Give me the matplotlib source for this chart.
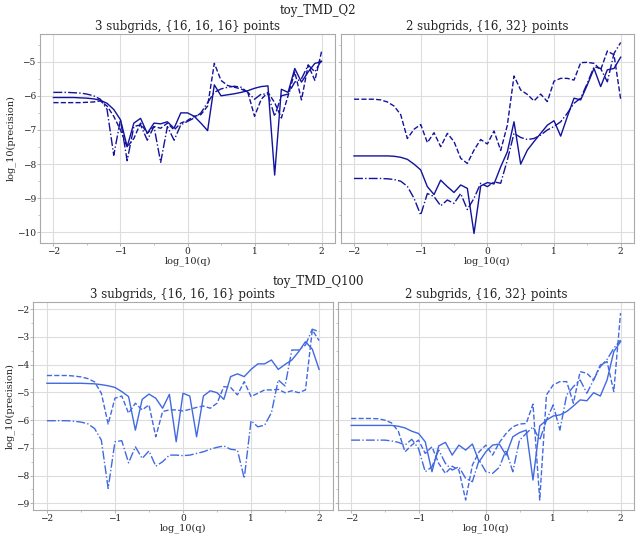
import numpy as np
import matplotlib
matplotlib.use("Agg")
import matplotlib.pyplot as plt
from matplotlib.ticker import MultipleLocator

plt.rcParams['font.family'] = ['DejaVu Serif']

log_q = np.round(np.linspace(-2.0, 2.0, 41), 1)

q2_3sub_solid = [-6.05, -6.05, -6.05, -6.05, -6.06, -6.07, -6.09, -6.13, -6.22, -6.4,
                 -6.7, -7.49, -6.8, -6.66, -7.1, -6.8, -6.82, -6.76, -6.95, -6.5,
                 -6.5, -6.6, -6.8, -7.02, -5.68, -6.0, -5.97, -5.94, -5.9, -5.85,
                 -5.78, -5.73, -5.71, -8.32, -5.81, -5.9, -5.2, -5.6, -5.3, -5.05,
                 -5.0]
q2_3sub_dashed = [-6.2, -6.2, -6.2, -6.2, -6.2, -6.19, -6.18, -6.15, -6.3, -6.6,
                  -7.0, -7.5, -7.25, -6.8, -7.1, -6.9, -6.95, -6.8, -7.0, -6.8,
                  -6.72, -6.6, -6.55, -6.3, -5.05, -5.55, -5.7, -5.75, -5.8, -5.9,
                  -6.6, -6.1, -5.9, -6.2, -6.65, -6.0, -5.3, -6.12, -5.1, -5.55,
                  -4.7]
q2_3sub_dashdot = [-5.9, -5.9, -5.9, -5.91, -5.92, -5.95, -6.0, -6.1, -6.4, -7.74,
                   -6.7, -7.9, -6.9, -6.85, -7.3, -6.9, -7.95, -6.9, -7.3, -6.85,
                   -6.75, -6.65, -6.5, -6.2, -5.9, -5.8, -5.75, -5.72, -5.75, -5.9,
                   -6.1, -5.95, -5.95, -6.6, -6.0, -5.95, -5.6, -5.5, -5.1, -5.3,
                   -4.95]

q2_2sub_solid = [-7.76, -7.76, -7.76, -7.76, -7.76, -7.76, -7.77, -7.8, -7.86, -8.0,
                 -8.17, -8.66, -8.89, -8.47, -8.66, -8.83, -8.61, -8.71, -10.03, -8.64,
                 -8.54, -8.58, -8.08, -7.64, -6.76, -8.0, -7.59, -7.34, -7.1, -6.86,
                 -6.73, -7.18, -6.61, -6.07, -6.12, -5.68, -5.2, -5.73, -5.24, -5.2,
                 -4.87]
q2_2sub_dashed = [-6.1, -6.1, -6.1, -6.1, -6.12, -6.18, -6.3, -6.55, -7.25, -6.98,
                  -6.84, -7.37, -7.08, -7.49, -7.1, -7.34, -7.83, -7.98, -7.59, -7.28,
                  -7.41, -7.03, -7.6, -6.86, -5.42, -5.83, -5.96, -6.15, -5.95, -6.17,
                  -5.57, -5.49, -5.49, -5.54, -5.03, -5.02, -5.05, -5.24, -4.69, -4.8,
                  -6.1]
q2_2sub_dashdot = [-8.42, -8.42, -8.42, -8.42, -8.42, -8.43, -8.45, -8.5, -8.65, -9.0,
                   -9.49, -8.86, -8.95, -9.22, -9.05, -9.15, -8.86, -9.33, -9.0, -8.56,
                   -8.66, -8.52, -8.56, -7.88, -7.1, -7.22, -7.28, -7.25, -7.15, -7.0,
                   -6.9, -6.76, -6.51, -6.22, -6.07, -5.63, -5.15, -5.2, -5.59, -4.76,
                   -4.44]

q100_3sub_solid = [-4.67, -4.67, -4.67, -4.67, -4.67, -4.67, -4.68, -4.69, -4.72, -4.76,
                   -4.82, -4.97, -5.15, -6.36, -5.25, -5.06, -5.21, -5.57, -5.07, -6.78,
                   -5.03, -5.13, -6.6, -5.13, -4.94, -5.01, -5.25, -4.43, -4.33, -4.43,
                   -4.17, -3.97, -3.97, -3.83, -4.17, -3.99, -3.83, -3.53, -3.17, -3.44,
                   -4.17]
q100_3sub_dashed = [-4.39, -4.39, -4.39, -4.39, -4.41, -4.44, -4.5, -4.62, -5.03, -6.14,
                    -5.21, -5.13, -5.75, -5.39, -5.63, -5.45, -6.6, -5.69, -5.63, -5.63,
                    -5.67, -5.61, -5.54, -5.49, -5.57, -5.39, -4.79, -4.82, -5.09, -4.61,
                    -5.15, -5.03, -4.91, -4.91, -4.89, -5.01, -4.94, -5.01, -4.91, -2.75,
                    -3.13]
q100_3sub_dashdot = [-6.02, -6.02, -6.02, -6.02, -6.04, -6.07, -6.13, -6.3, -6.72, -8.46,
                     -6.78, -6.74, -7.54, -6.96, -7.38, -7.11, -7.66, -7.5, -7.26, -7.26,
                     -7.28, -7.26, -7.2, -7.14, -7.05, -6.98, -6.93, -7.05, -7.08, -8.1,
                     -6.02, -6.24, -6.18, -5.73, -4.55, -4.77, -3.47, -3.47, -3.29, -2.72,
                     -2.81]

q100_2sub_solid = [-6.19, -6.19, -6.19, -6.19, -6.19, -6.19, -6.19, -6.22, -6.28, -6.4,
                   -6.48, -6.78, -7.86, -6.93, -6.8, -7.26, -6.9, -7.08, -6.86, -7.5,
                   -7.14, -6.9, -6.86, -7.26, -6.6, -6.45, -6.36, -8.16, -6.21, -6.0,
                   -5.85, -5.81, -5.69, -5.49, -5.27, -5.3, -5.01, -5.13, -4.55, -3.53,
                   -3.17]
q100_2sub_dashed = [-5.94, -5.94, -5.94, -5.94, -5.95, -6.0, -6.1, -6.4, -7.14, -6.9,
                    -6.72, -7.2, -6.96, -7.56, -7.92, -7.66, -7.8, -8.88, -7.62, -7.14,
                    -6.9, -7.26, -6.81, -6.48, -6.24, -6.14, -6.12, -5.42, -8.88, -5.09,
                    -4.73, -4.61, -4.61, -5.39, -4.25, -4.31, -4.55, -4.01, -3.89, -4.97,
                    -2.14]
q100_2sub_dashdot = [-6.72, -6.72, -6.72, -6.72, -6.72, -6.72, -6.75, -6.8, -6.9, -6.69,
                     -7.02, -7.86, -7.68, -7.08, -7.56, -7.8, -7.68, -8.1, -8.22, -7.44,
                     -7.86, -7.92, -7.7, -7.08, -7.86, -6.72, -6.48, -6.24, -6.72, -6.0,
                     -5.45, -6.36, -5.09, -4.79, -4.55, -5.03, -4.55, -4.07, -3.81, -3.41,
                     -3.11]

row_titles = ["toy_TMD_Q2", "toy_TMD_Q100"]
col_titles = ["3 subgrids, {16, 16, 16} points", "2 subgrids, {16, 32} points"]
row_colors = ["#12129c", "#4169e1"]
xlabel = "log_10(q)"
ylabel = "log_10(precision)"

panels = [
    [(q2_3sub_solid, q2_3sub_dashed, q2_3sub_dashdot),
     (q2_2sub_solid, q2_2sub_dashed, q2_2sub_dashdot)],
    [(q100_3sub_solid, q100_3sub_dashed, q100_3sub_dashdot),
     (q100_2sub_solid, q100_2sub_dashed, q100_2sub_dashdot)],
]

W, H = 636, 534
fig = plt.figure(figsize=(W / 100, H / 100), dpi=100)

def frac(l, t, r, b):
    return [l / W, 1 - b / H, (r - l) / W, (b - t) / H]

boxes = [
    [frac(40, 34.3, 335, 242.7), frac(340.7, 34.3, 634, 242.7)],
    [frac(33.3, 302.3, 332.7, 510), frac(337.7, 302.3, 634, 510)],
]
ylims = [(-10.3, -4.2), (-9.24, -1.75)]
sup_y = [10.5, 281]

txt = "#222222"
edge = "#aaaaaa"
styles = ["-", "--", "-."]

for r in range(2):
    fig.text(0.5, 1 - sup_y[r] / H, row_titles[r], ha="center", va="center",
             fontsize=8.5, color=txt)
    for c in range(2):
        ax = fig.add_axes(boxes[r][c])
        for series, ls in zip(panels[r][c], styles):
            ax.plot(log_q, series, ls=ls, color=row_colors[r], lw=1.0)
        ax.set_xlim(-2.2, 2.2)
        ax.set_ylim(*ylims[r])
        ax.xaxis.set_major_locator(MultipleLocator(1))
        ax.yaxis.set_major_locator(MultipleLocator(1))
        ax.xaxis.set_minor_locator(MultipleLocator(0.5))
        ax.yaxis.set_minor_locator(MultipleLocator(0.5))
        ax.grid(True, which="major", color="#dddddd", lw=0.8)
        ax.set_axisbelow(True)
        for s in ax.spines.values():
            s.set_color(edge)
            s.set_linewidth(0.8)
        ax.tick_params(which="major", length=2, width=0.6, color=edge,
                       labelsize=6.5, labelcolor=txt, pad=1)
        ax.tick_params(which="minor", length=1.2, width=0.5, color=edge)
        ax.set_title(col_titles[c], fontsize=8.5, color=txt, pad=3)
        ax.set_xlabel(xlabel, fontsize=7, color=txt, labelpad=0)
        if c == 0:
            ax.set_ylabel(ylabel, fontsize=7, color=txt, labelpad=1)
        else:
            ax.tick_params(axis="y", which="both", labelleft=False)

fig.savefig("out.png", dpi=100)
